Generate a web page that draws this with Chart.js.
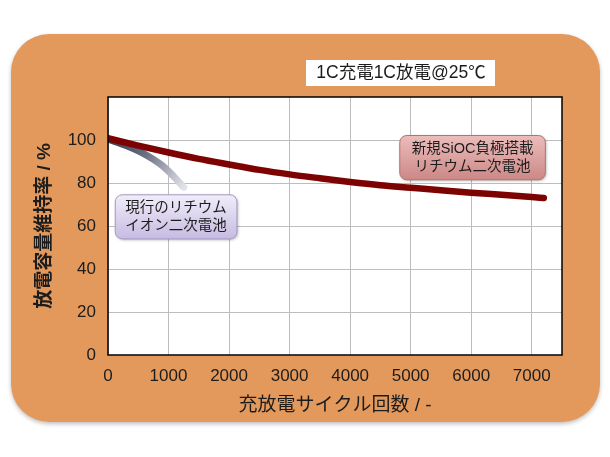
<!DOCTYPE html>
<html>
<head>
<meta charset="utf-8">
<script src="https://cdn.jsdelivr.net/npm/chart.js@4/dist/chart.umd.min.js"></script>
<style>
	html, body { margin: 0; background: #fff; }
	#wrap { width: 610px; height: 457px; }
</style>
</head>
<body>
<div id="wrap"><canvas id="myChart" width="610" height="457"></canvas></div>
<script>
(() => {
	'use strict'

	// SiOC anode cell (red curve)
	const sioCycles = [0, 500, 1000, 1500, 2000, 2500, 3000, 3500, 4000, 4500, 5000, 5500, 6000, 6500, 7000, 7200]
	const sioRetention = [100.8, 97.4, 94.2, 91.2, 88.6, 86.1, 84.0, 82.2, 80.5, 79.0, 77.8, 76.6, 75.5, 74.5, 73.5, 73.0]

	// current Li-ion cell (grey curve)
	const liCycles = [0, 300, 600, 900, 1100, 1250]
	const liRetention = [100.5, 97.4, 93.5, 88.0, 82.6, 78.0]

	const xTickValues = [0, 1000, 2000, 3000, 4000, 5000, 6000, 7000]
	const yTickValues = [0, 20, 40, 60, 80, 100]

	const chartTitle = '1C充電1C放電@25℃'
	const xTitle = '充放電サイクル回数 / -'
	const yTitle = '放電容量維持率 / %'

	const cjk = '"Liberation Sans", "Noto Sans CJK JP", sans-serif'
	const latin = '"Liberation Sans", Arial, sans-serif'
	const ink = '#1c1c1c'

	// callout boxes, placed in data space
	const notes = [
		{ lines: ['現行のリチウム', 'イオン二次電池'], x0: 120, x1: 2130, y0: 74.5, y1: 54,
			top: '#f1edf9', bottom: '#c6bbe2', edge: '#a49bc4', align: 'left' },
		{ lines: ['新規SiOC負極搭載', 'リチウム二次電池'], x0: 4820, x1: 7225, y0: 102.1, y1: 81.5,
			top: '#ebbdbb', bottom: '#cc8886', edge: '#b27270', align: 'center' }
	]

	const roundRect = (ctx, x, y, w, h, r) => {
		ctx.beginPath()
		ctx.moveTo(x + r, y)
		ctx.arcTo(x + w, y, x + w, y + h, r)
		ctx.arcTo(x + w, y + h, x, y + h, r)
		ctx.arcTo(x, y + h, x, y, r)
		ctx.arcTo(x, y, x + w, y, r)
		ctx.closePath()
	}

	// grey fades out along the curve
	const greyFade = (context) => {
		const { chart } = context
		const { ctx, chartArea, scales } = chart
		if (!chartArea) return '#555'
		const n = liCycles.length - 1
		const g = ctx.createLinearGradient(
			scales.x.getPixelForValue(liCycles[0]), scales.y.getPixelForValue(liRetention[0]),
			scales.x.getPixelForValue(liCycles[n]), scales.y.getPixelForValue(liRetention[n]))
		g.addColorStop(0, '#34384c')
		g.addColorStop(0.45, '#6c7084')
		g.addColorStop(1, '#e2e3e8')
		return g
	}

	const decor = {
		id: 'decor',
		beforeDraw(chart) {
			const { ctx, chartArea: a } = chart
			ctx.save()
			ctx.shadowColor = 'rgba(0,0,0,0.25)'
			ctx.shadowBlur = 4
			ctx.shadowOffsetY = 2
			ctx.fillStyle = '#e4995c'
			roundRect(ctx, 11, 34, 589, 388, 38)
			ctx.fill()
			ctx.restore()
			ctx.fillStyle = '#fff'
			ctx.fillRect(a.left, a.top, a.right - a.left, a.bottom - a.top)
		},
		afterDatasetsDraw(chart) {
			const { ctx, scales: { x, y } } = chart
			notes.forEach(n => {
				const l = x.getPixelForValue(n.x0), r = x.getPixelForValue(n.x1)
				const t = y.getPixelForValue(n.y0), b = y.getPixelForValue(n.y1)
				ctx.save()
				const g = ctx.createLinearGradient(0, t, 0, b)
				g.addColorStop(0, n.top)
				g.addColorStop(1, n.bottom)
				ctx.shadowColor = 'rgba(0,0,0,0.3)'
				ctx.shadowBlur = 3
				ctx.shadowOffsetX = 1
				ctx.shadowOffsetY = 1
				roundRect(ctx, l, t, r - l, b - t, 7)
				ctx.fillStyle = g
				ctx.fill()
				ctx.shadowColor = 'transparent'
				ctx.strokeStyle = n.edge
				ctx.lineWidth = 1
				ctx.stroke()
				ctx.fillStyle = ink
				ctx.font = '14.5px ' + cjk
				ctx.textBaseline = 'middle'
				ctx.textAlign = n.align
				const tx = n.align === 'left' ? l + 10 : (l + r) / 2
				const mid = (t + b) / 2
				ctx.fillText(n.lines[0], tx, mid - 9)
				ctx.fillText(n.lines[1], tx, mid + 9)
				ctx.restore()
			})
		},
		afterDraw(chart) {
			const { ctx, chartArea: a } = chart
			ctx.save()
			ctx.strokeStyle = '#000'
			ctx.lineWidth = 1.5
			ctx.strokeRect(a.left, a.top, a.right - a.left, a.bottom - a.top)
			// title box
			ctx.fillStyle = '#fff'
			ctx.fillRect(306, 60, 189, 26)
			ctx.fillStyle = ink
			ctx.font = '17.5px ' + cjk
			ctx.textAlign = 'center'
			ctx.textBaseline = 'middle'
			ctx.fillText(chartTitle, 401, 73.5)
			ctx.restore()
		}
	}

	const ctx = document.getElementById('myChart')
	// eslint-disable-next-line no-unused-vars
	const myChart = new Chart(ctx, {
		type: 'line',
		data: {
			datasets: [{
				label: 'SiOC',
				data: sioCycles.map((c, i) => ({ x: c, y: sioRetention[i] })),
				borderColor: '#7d0303',
				borderWidth: 6.5,
				borderCapStyle: 'round',
				cubicInterpolationMode: 'monotone',
				pointRadius: 0
			}, {
				label: 'Li-ion',
				data: liCycles.map((c, i) => ({ x: c, y: liRetention[i] })),
				borderColor: greyFade,
				borderWidth: 7,
				borderCapStyle: 'round',
				borderJoinStyle: 'round',
				cubicInterpolationMode: 'monotone',
				pointRadius: 0
			}]
		},
		options: {
			responsive: false,
			animation: false,
			layout: { padding: { left: 0, top: 97, right: 48, bottom: 0 } },
			plugins: {
				legend: { display: false },
				tooltip: { enabled: false }
			},
			scales: {
				x: {
					type: 'linear',
					min: 0,
					max: 7500,
					afterBuildTicks: s => { s.ticks = xTickValues.map(v => ({ value: v })) },
					afterFit: s => { s.height = 102 },
					grid: { color: '#bdbdbd', lineWidth: 1, drawTicks: false },
					border: { display: false },
					ticks: { color: ink, padding: 11, maxRotation: 0, callback: v => String(v), font: { family: latin, size: 17 } },
					title: { display: true, text: xTitle, color: ink, padding: { top: 0, bottom: 40 }, font: { family: cjk, size: 19 } }
				},
				y: {
					min: 0,
					max: 120,
					afterBuildTicks: s => { s.ticks = yTickValues.map(v => ({ value: v })) },
					afterFit: s => { s.width = 108 },
					grid: { color: '#bdbdbd', lineWidth: 1, drawTicks: false },
					border: { display: false },
					ticks: { color: ink, padding: 12, callback: v => String(v), font: { family: latin, size: 17 } },
					title: { display: true, text: yTitle, color: ink, padding: { top: 33, bottom: 0 }, font: { family: cjk, size: 19, weight: 'bold' } }
				}
			}
		},
		plugins: [decor]
	})
})()
</script>
</body>
</html>
